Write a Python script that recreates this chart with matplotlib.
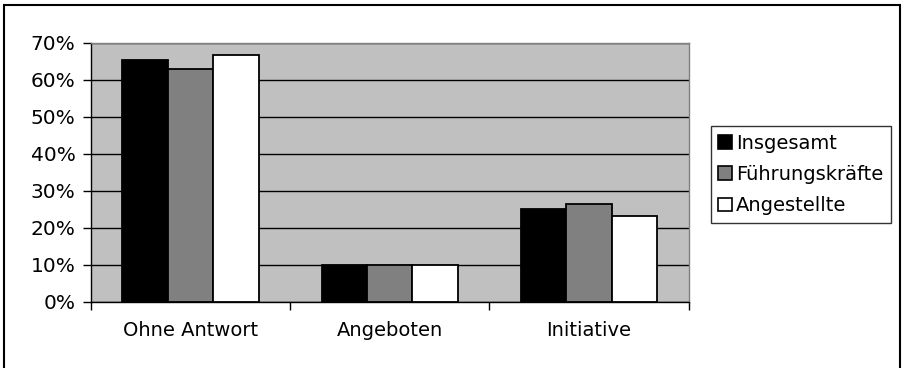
import matplotlib
matplotlib.use("Agg")
import matplotlib.pyplot as plt
import matplotlib.patches as mpatches
import numpy as np
from matplotlib.ticker import PercentFormatter, FixedLocator

categories = ["Ohne Antwort", "Angeboten", "Initiative"]
series = ["Insgesamt", "Führungskräfte", "Angestellte"]
insgesamt = [65.3, 10.0, 25.0]
fuehrung = [63.0, 10.0, 26.4]
angestellte = [66.7, 10.0, 23.2]
colors = ["#000000", "#808080", "#FFFFFF"]

plt.rcParams["font.family"] = ["DejaVu Sans"]

fig = plt.figure(figsize=(9.03, 3.68), dpi=100)
ax = fig.add_axes([90.7 / 903, 1 - 301.7 / 368, (688.7 - 90.7) / 903, (301.7 - 42.7) / 368])
ax.set_facecolor("#C0C0C0")

x = np.arange(len(categories))
w = 0.228
for i, (vals, col, name) in enumerate(zip([insgesamt, fuehrung, angestellte], colors, series)):
    ax.bar(x + (i - 1) * w, vals, width=w, color=col, edgecolor="black",
           linewidth=1.3, label=name, zorder=3)

ax.set_xlim(-0.5, 2.5)
ax.set_ylim(0, 70)
ax.set_yticks(np.arange(0, 71, 10))
ax.yaxis.set_major_formatter(PercentFormatter(decimals=0))
ax.grid(axis="y", color="black", linewidth=1.0)
ax.set_axisbelow(True)

# category labels centred, ticks at the boundaries between groups
ax.set_xticks(x)
ax.set_xticklabels(categories)
ax.tick_params(axis="x", length=0, pad=14, labelsize=14)
ax.xaxis.set_minor_locator(FixedLocator([-0.5, 0.5, 1.5, 2.5]))
ax.tick_params(axis="x", which="minor", length=6, width=1, color="black")
ax.tick_params(axis="y", length=6, width=1, labelsize=14.5, pad=5)

for side in ["left", "bottom"]:
    ax.spines[side].set_color("black")
    ax.spines[side].set_linewidth(1.0)
for side in ["top", "right"]:
    ax.spines[side].set_color("#808080")
    ax.spines[side].set_linewidth(1.0)

handles = [mpatches.Patch(facecolor=c, edgecolor="black", linewidth=1.2, label=s)
           for c, s in zip(colors, series)]
leg = fig.legend(handles=handles, loc="upper left",
                 bbox_to_anchor=(710.7 / 903, 1 - 126 / 368),
                 frameon=True, fancybox=False, edgecolor="black",
                 fontsize=14, handlelength=0.7, handleheight=0.7,
                 handletextpad=0.2, borderpad=0.4, labelspacing=0.63,
                 borderaxespad=0)
leg.get_frame().set_linewidth(1.0)

# outer chart border
fig.patches.append(mpatches.Rectangle((4 / 903, -0.05), (900 - 4) / 903, 1 - 5 / 368 + 0.05,
                                      transform=fig.transFigure, fill=False,
                                      edgecolor="black", linewidth=1.5))

fig.savefig("out.png", dpi=100)
